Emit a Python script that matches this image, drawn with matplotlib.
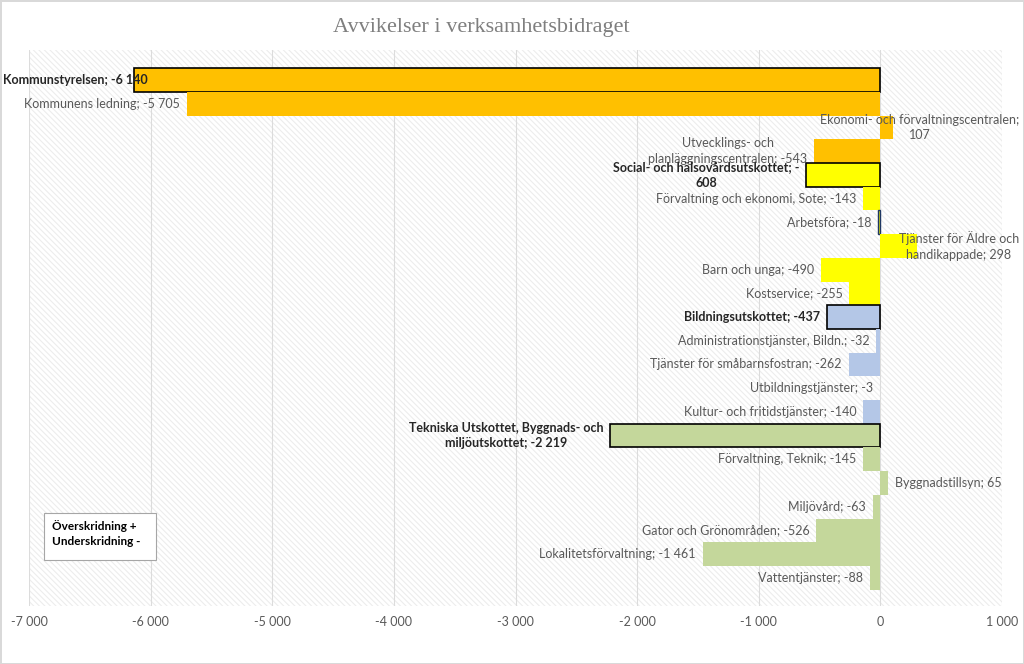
import matplotlib.pyplot as plt
from matplotlib.patches import Rectangle
import matplotlib.transforms as mtransforms

# Data (top to bottom)
names = [
    "Kommunstyrelsen",
    "Kommunens ledning",
    "Ekonomi- och förvaltningscentralen",
    "Utvecklings- och planläggningscentralen",
    "Social- och hälsovårdsutskottet",
    "Förvaltning och ekonomi, Sote",
    "Arbetsföra",
    "Tjänster för Äldre och handikappade",
    "Barn och unga",
    "Kostservice",
    "Bildningsutskottet",
    "Administrationstjänster, Bildn.",
    "Tjänster för småbarnsfostran",
    "Utbildningstjänster",
    "Kultur- och fritidstjänster",
    "Tekniska Utskottet, Byggnads- och miljöutskottet",
    "Förvaltning, Teknik",
    "Byggnadstillsyn",
    "Miljövård",
    "Gator och Grönområden",
    "Lokalitetsförvaltning",
    "Vattentjänster",
]
values = [-6140, -5705, 107, -543, -608, -143, -18, 298, -490, -255,
          -437, -32, -262, -3, -140, -2219, -145, 65, -63, -526, -1461, -88]
groups = ["ks"] * 4 + ["sote"] * 6 + ["bild"] * 5 + ["tek"] * 7
headers = ["Kommunstyrelsen", "Social- och hälsovårdsutskottet",
           "Bildningsutskottet",
           "Tekniska Utskottet, Byggnads- och miljöutskottet"]

group_colors = {"ks": "#FFC000", "sote": "#FFFF00", "bild": "#B4C7E7", "tek": "#C4D79B"}

# line breaks as in the original data labels
wraps = {
    "Ekonomi- och förvaltningscentralen": ("; ", ";\n"),
    "Utvecklings- och planläggningscentralen": ("och ", "och\n"),
    "Social- och hälsovårdsutskottet": ("-6", "-\n6"),
    "Tjänster för Äldre och handikappade": ("och ", "och\n"),
    "Tekniska Utskottet, Byggnads- och miljöutskottet": ("och ", "och\n"),
}
# labels that Excel pushed against the chart edge
clamp_left = ["Kommunstyrelsen"]
clamp_right = ["Ekonomi- och förvaltningscentralen", "Tjänster för Äldre och handikappade"]


def fmt(v):
    s = f"{abs(v):,}".replace(",", " ")
    return "-" + s if v < 0 else s


plt.rcParams['font.family'] = ['Lato', 'DejaVu Sans']
plt.rcParams['hatch.linewidth'] = 0.8

fig = plt.figure(figsize=(10.24, 6.64), dpi=100)
fig.patch.set_edgecolor("#d9d9d9")
fig.patch.set_linewidth(2)
ax = fig.add_axes([29 / 1024, 1 - 606 / 664, 973 / 1024, 556 / 664])

ax.patch.set_facecolor("white")
ax.patch.set_hatch("\\" * 6)
ax.patch.set_edgecolor("#ededed")

y = list(range(len(names)))
colors = [group_colors[g] for g in groups]
edges = ["black" if n in headers else "none" for n in names]
edges[names.index("Arbetsföra")] = "#1F3864"
lws = [1.2 if n in headers else 1.0 for n in names]
ax.barh(y, values, height=1.0, color=colors, edgecolor=edges, linewidth=lws, zorder=3)

ax.set_xlim(-7000, 1000)
ax.set_ylim(22.19, -1.27)
ax.set_xticks(range(-7000, 1001, 1000))
ax.set_xticklabels([fmt(t) for t in range(-7000, 1001, 1000)], color="#595959", fontsize=9)
ax.set_yticks([])
ax.tick_params(axis="x", length=0, pad=7)
ax.grid(axis="x", color="#dcdcdc", linewidth=0.8, zorder=1)
ax.set_axisbelow(True)
for s in ax.spines.values():
    s.set_visible(False)

trans_fig = mtransforms.blended_transform_factory(fig.transFigure, ax.transData)
for i, (n, v) in enumerate(zip(names, values)):
    label = f"{n}; {fmt(v)}"
    if n in wraps:
        a, b = wraps[n]
        label = label.replace(a, b, 1)
    bold = n in headers
    kw = dict(va="center", multialignment="center", fontsize=9, linespacing=1.35,
              color="#262626" if bold else "#595959",
              fontweight="bold" if bold else "normal", zorder=5)
    if n in clamp_left:
        ax.text(3 / 1024, i, label, ha="left", transform=trans_fig, **kw)
    elif n in clamp_right:
        ax.text(1019 / 1024, i, label, ha="right", transform=trans_fig, **kw)
    elif v < 0:
        ax.annotate(label, (v, i), xytext=(-5, 0), textcoords="offset points", ha="right", **kw)
    else:
        ax.annotate(label, (v, i), xytext=(5, 0), textcoords="offset points", ha="left", **kw)

ax.set_title("Avvikelser i verksamhetsbidraget", family="Liberation Serif",
             fontsize=16, color="#7f7f7f", pad=13, x=0.465)

# note box
fig.patches.append(Rectangle((44 / 1024, 1 - 560 / 664), 112 / 1024, 47 / 664,
                             transform=fig.transFigure, facecolor="white",
                             edgecolor="#a6a6a6", linewidth=0.8, zorder=6))
fig.text(52 / 1024, 1 - 520 / 664, "Överskridning +\nUnderskridning -", fontsize=8.5,
         fontweight="bold", va="top", ha="left", color="black", linespacing=1.45, zorder=7)

fig.savefig("out.png", dpi=100)
